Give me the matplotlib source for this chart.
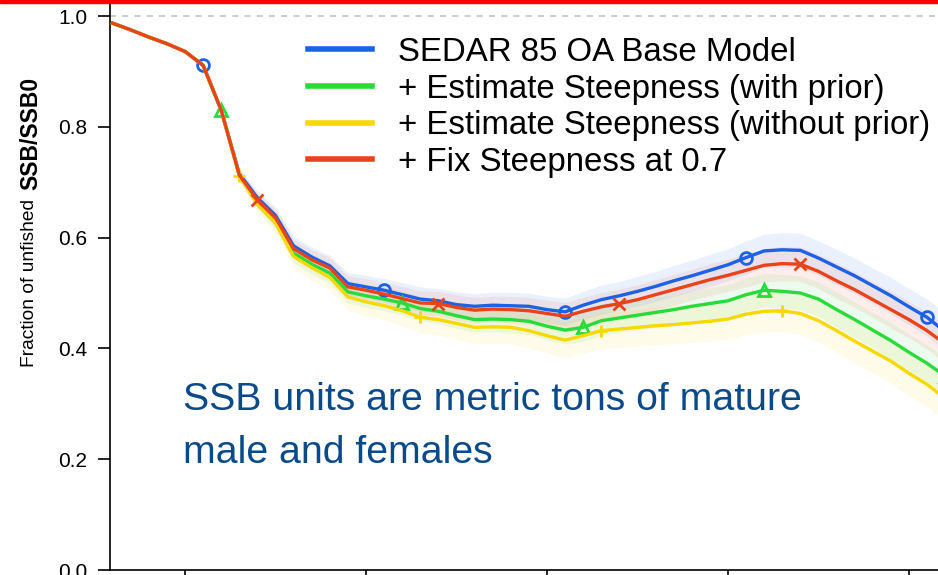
import numpy as np
import matplotlib
matplotlib.use("Agg")
import matplotlib.pyplot as plt
from matplotlib.lines import Line2D
from matplotlib.patches import Rectangle

plt.rcParams['font.family'] = ['Liberation Sans', 'DejaVu Sans']

years = np.arange(1966, 2013)

# relative spawning biomass by model run
base = [0.987, 0.975, 0.962, 0.950, 0.936, 0.911, 0.830, 0.715, 0.672, 0.640,
        0.585, 0.565, 0.549, 0.517, 0.511, 0.505, 0.497, 0.489, 0.486, 0.479,
        0.476, 0.478, 0.477, 0.476, 0.470, 0.466, 0.478, 0.488, 0.495, 0.503,
        0.512, 0.522, 0.531, 0.541, 0.551, 0.564, 0.576, 0.578, 0.577, 0.563,
        0.547, 0.531, 0.513, 0.495, 0.475, 0.456, 0.430]
steep_prior = [0.987, 0.975, 0.962, 0.950, 0.936, 0.911, 0.830, 0.712, 0.663, 0.630,
               0.572, 0.552, 0.536, 0.502, 0.495, 0.489, 0.482, 0.472, 0.467, 0.459,
               0.452, 0.453, 0.452, 0.449, 0.440, 0.433, 0.438, 0.450, 0.455, 0.460,
               0.465, 0.470, 0.476, 0.481, 0.486, 0.497, 0.505, 0.503, 0.500, 0.489,
               0.470, 0.452, 0.433, 0.414, 0.393, 0.373, 0.350]
steep_noprior = [0.987, 0.975, 0.962, 0.950, 0.936, 0.911, 0.830, 0.712, 0.660, 0.626,
                 0.566, 0.546, 0.528, 0.493, 0.484, 0.477, 0.468, 0.456, 0.452, 0.445,
                 0.438, 0.439, 0.438, 0.432, 0.423, 0.415, 0.423, 0.432, 0.435, 0.438,
                 0.441, 0.443, 0.446, 0.449, 0.453, 0.462, 0.467, 0.468, 0.463, 0.450,
                 0.432, 0.413, 0.395, 0.377, 0.355, 0.335, 0.310]
steep_fixed = [0.987, 0.975, 0.962, 0.950, 0.936, 0.911, 0.830, 0.713, 0.668, 0.636,
               0.580, 0.560, 0.545, 0.511, 0.505, 0.498, 0.490, 0.482, 0.481, 0.474,
               0.469, 0.471, 0.470, 0.468, 0.463, 0.458, 0.467, 0.475, 0.481, 0.488,
               0.497, 0.506, 0.515, 0.524, 0.532, 0.541, 0.550, 0.553, 0.552, 0.539,
               0.522, 0.506, 0.488, 0.470, 0.452, 0.432, 0.408]

# half-widths of the uncertainty intervals
ci_base = [0.002, 0.002, 0.002, 0.002, 0.003, 0.004, 0.007, 0.010, 0.013, 0.015,
           0.017, 0.018, 0.019, 0.020, 0.021, 0.021, 0.022, 0.022, 0.022, 0.023,
           0.023, 0.023, 0.024, 0.024, 0.024, 0.025, 0.025, 0.026, 0.026, 0.027,
           0.027, 0.028, 0.028, 0.029, 0.029, 0.030, 0.030, 0.031, 0.031, 0.031,
           0.032, 0.032, 0.032, 0.033, 0.033, 0.033, 0.034]
ci_noprior = [0.002, 0.002, 0.002, 0.002, 0.003, 0.005, 0.008, 0.012, 0.015, 0.018,
              0.020, 0.022, 0.023, 0.024, 0.025, 0.026, 0.027, 0.028, 0.028, 0.029,
              0.029, 0.030, 0.030, 0.031, 0.031, 0.032, 0.032, 0.033, 0.033, 0.034,
              0.034, 0.035, 0.035, 0.036, 0.036, 0.037, 0.037, 0.038, 0.038, 0.038,
              0.039, 0.039, 0.039, 0.040, 0.040, 0.040, 0.041]

labels = ["SEDAR 85 OA Base Model",
          "+ Estimate Steepness (with prior)",
          "+ Estimate Steepness (without prior)",
          "+ Fix Steepness at 0.7"]
colors = ["#1c62e6", "#27dc3a", "#f7d800", "#ea4219"]
markers = ["o", "^", "+", "x"]
series = [base, steep_prior, steep_noprior, steep_fixed]
cis = [ci_base, ci_base, ci_noprior, ci_base]

fig = plt.figure(figsize=(9.38, 5.75), dpi=100)
# y axis sits at x=110px, zero line at 5px from the bottom edge
ax = fig.add_axes([110 / 938, 5 / 575, 862 / 938, 570.6 / 575])
ax.set_xlim(1965.856, 1965.856 + 862 / 18.1)
ax.set_ylim(0, 1.03)

ax.axhline(1.0, color="#bdbdbd", lw=1.1, ls=(0, (4, 4)), zorder=1)

for i, (y, ci, c) in enumerate(zip(series, cis, colors)):
    y = np.array(y)
    ci = np.array(ci)
    ax.fill_between(years, y - ci, y + ci, color=c, alpha=0.085, lw=0, zorder=2)

for i, (y, c, m) in enumerate(zip(series, colors, markers)):
    ax.plot(years, y, color=c, lw=2.4, zorder=3 + i)
    # markers every 10 years, staggered by one year per run
    idx = np.arange(5 + i, len(years), 10)
    ax.plot(years[idx], np.array(y)[idx], ls="none", marker=m, ms=8.5,
            mfc="none", mec=c, mew=2, zorder=3 + i)

ax.spines["top"].set_visible(False)
ax.spines["right"].set_visible(False)
for s in ("left", "bottom"):
    ax.spines[s].set_linewidth(1.2)
ax.set_yticks([0.0, 0.2, 0.4, 0.6, 0.8, 1.0])
ax.set_yticklabels(["0.0", "0.2", "0.4", "0.6", "0.8", "1.0"])
ax.set_xticks([1970, 1980, 1990, 2000, 2010])
ax.set_xticklabels([])
ax.tick_params(axis="both", direction="out", length=8.5, width=1.2,
               labelsize=15, pad=8)

# y label: plain part then bold part
fig.text(30 / 938, 1 - 283 / 575, "Fraction of unfished", rotation=90,
         ha="center", va="center", fontsize=13.8)
fig.text(31 / 938, 1 - 133 / 575, "SSB/SSB0", rotation=90,
         ha="center", va="center", fontsize=16.5, fontweight="bold")

handles = [Line2D([0], [0], color=c, lw=4) for c in colors]
ax.legend(handles, labels, loc="upper left", bbox_to_anchor=(308 / 938, 1 - 37 / 575),
          bbox_transform=fig.transFigure, frameon=False, fontsize=23.8,
          handlelength=1.95, handletextpad=0.78, labelspacing=0.17,
          borderpad=0, borderaxespad=0)

fig.text(183 / 938, 1 - 382 / 575, "SSB units are metric tons of mature\nmale and females",
         color="#0b4a8a", fontsize=28.3, ha="left", va="top", linespacing=1.6)

# thin red rule across the top
fig.patches.append(Rectangle((0, 1 - 3 / 575), 1, 3 / 575, transform=fig.transFigure,
                             color="#ff0000", zorder=10))

fig.savefig("out.png", dpi=100)
